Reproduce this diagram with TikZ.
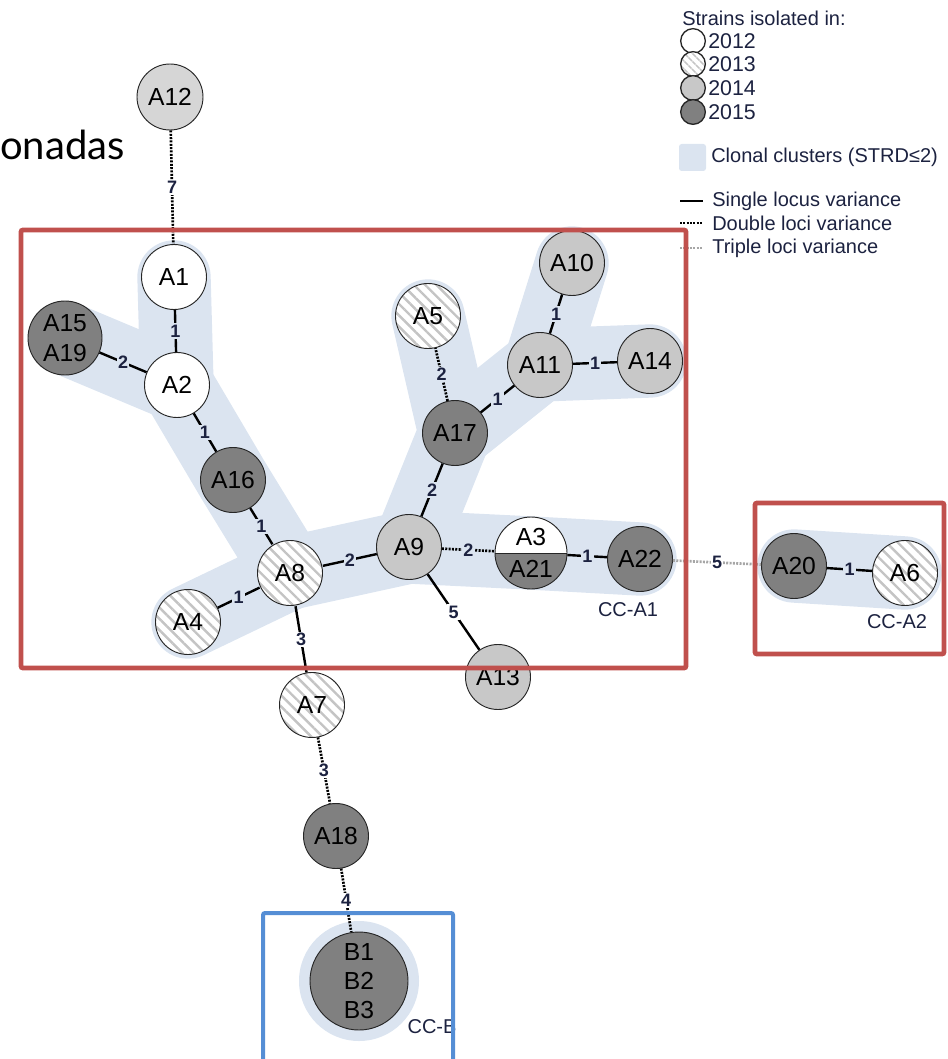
\documentclass[tikz,border=0pt]{standalone}
\usepackage{fontspec}
\setmainfont{Liberation Sans}
\newfontfamily\titlefont{Lato}
\usetikzlibrary{patterns.meta,backgrounds}
\definecolor{clust}{RGB}{219,228,240}
\definecolor{cfour}{RGB}{200,200,200}
\definecolor{cfourl}{RGB}{214,214,214}
\definecolor{cfive}{RGB}{128,128,128}
\definecolor{ink}{RGB}{28,34,64}
\definecolor{boxred}{RGB}{192,80,77}
\definecolor{boxblue}{RGB}{85,142,213}
\definecolor{stripe}{RGB}{196,196,196}
\begin{document}
\begin{tikzpicture}[x=0.75pt,y=-0.75pt,
 strain/.style={circle,draw=black!85,line width=0.7pt,minimum size=48.75pt,inner sep=0pt,font=\fontsize{18.5}{22.5}\selectfont,align=center},
 yrA/.style={strain,fill=white},
 yrB/.style={strain,preaction={fill=white},pattern={Lines[angle=-45,distance=6pt,line width=1.8pt]},pattern color=stripe},
 yrC/.style={strain,fill=cfour},
 yrD/.style={strain,fill=cfive},
 sl/.style={line width=1.8pt,black},
 dl/.style={line width=2pt,black,dash pattern=on 1.5pt off 1pt},
 tl/.style={line width=2pt,black!35,dash pattern=on 1.5pt off 1pt},
 elab/.style={font=\fontsize{13.5}{13.5}\selectfont\bfseries,text=ink,inner sep=1pt},
 hl/.style={elab,fill=clust},
 wl/.style={elab,fill=white},
 halo/.style={line width=55pt,draw=clust,line cap=round,line join=round},
 legtext/.style={font=\fontsize{15}{15}\selectfont,text=ink,anchor=west,inner sep=0pt},
 cclab/.style={font=\fontsize{15}{15}\selectfont,text=ink,inner sep=0pt},
 redbox/.style={draw=boxred,line width=3.6pt,rounded corners=1.5pt},
 bluebox/.style={draw=boxblue,line width=3pt,rounded corners=1.5pt},
 legc/.style={circle,draw=black!85,line width=1pt,minimum size=18.5pt,inner sep=0pt},
]
\useasboundingbox (0,0) rectangle (947,1059);

% title fragment
\node[font=\titlefont\fontsize{30}{30}\selectfont,anchor=base east,inner sep=0pt] (title) at (125,160) {onadas};

% strains
\node[yrC,fill=cfourl,minimum size=49.5pt] (a12) at (170,97) {A12};
\node[yrA] (a1) at (174,277) {A1};
\node[yrD,minimum size=55.5pt] (a1519) at (65,338) {A15\\A19};
\node[yrA] (a2) at (177,385) {A2};
\node[yrD] (a16) at (233,480) {A16};
\node[yrB] (a8) at (290,573) {A8};
\node[yrB] (a4) at (188,622) {A4};
\node[yrC] (a9) at (409,547) {A9};
\node[yrD] (a17) at (455,433) {A17};
\node[yrB] (a5) at (428,316) {A5};
\node[yrC] (a10) at (572,263) {A10};
\node[yrC] (a11) at (540,365) {A11};
\node[yrC] (a14) at (650,361) {A14};
\node[strain,minimum size=54pt,fill=cfive,path picture={\fill[white] (path picture bounding box.north west) rectangle (path picture bounding box.east);}] (a321) at (531,553) {};
\draw[black!85,line width=0.7pt] (a321.west) -- (a321.east);
\node[font=\fontsize{18.5}{18.5}\selectfont,inner sep=0pt] (a3t) at (531,537) {A3};
\node[font=\fontsize{18.5}{18.5}\selectfont,inner sep=0pt] (a21t) at (531,569) {A21};
\node[yrD] (a22) at (640,559) {A22};
\node[yrC] (a13) at (498,677) {A13};
\node[yrD] (a20) at (794,566) {A20};
\node[yrB] (a6) at (905,573) {A6};
\node[yrB] (a7) at (312,705) {A7};
\node[yrD] (a18) at (336,836) {A18};
\node[yrD,minimum size=73.5pt,font=\fontsize{18.5}{21.75}\selectfont] (b) at (359,981) {B1\\B2\\B3};

% clusters
\begin{scope}[on background layer]
\draw[halo] (a1.center) -- (a2.center) -- (a1519.center);
\draw[halo] (a2.center) -- (a16.center) -- (a8.center) -- (a4.center);
\draw[halo] (a8.center) -- (a9.center) -- (a321.center) -- (a22.center);
\draw[halo] (a9.center) -- (a17.center) -- (a5.center);
\draw[halo] (a17.center) -- (a11.center) -- (a10.center);
\draw[halo] (a11.center) -- (a14.center);
\draw[halo] (a20.center) -- (a6.center);
\fill[clust] (b.center) circle (60);
\end{scope}

% connectors
\draw[dl] (a12) -- node[wl]{7} (a1);
\draw[sl] (a1) -- node[hl]{1} (a2);
\draw[sl] (a2) -- node[hl]{2} (a1519);
\draw[sl] (a2) -- node[hl]{1} (a16);
\draw[sl] (a16) -- node[hl]{1} (a8);
\draw[sl] (a8) -- node[hl]{1} (a4);
\draw[sl] (a8) -- node[hl]{2} (a9);
\draw[sl] (a8) -- node[wl]{3} (a7);
\draw[sl] (a9) -- node[hl]{2} (a17);
\draw[dl] (a17) -- node[hl]{2} (a5);
\draw[sl] (a17) -- node[hl]{1} (a11);
\draw[sl] (a11) -- node[hl]{1} (a10);
\draw[sl] (a11) -- node[hl]{1} (a14);
\draw[dl] (a9) -- node[hl]{2} (a321);
\draw[sl] (a321) -- node[hl]{1} (a22);
\draw[sl] (a9) -- node[wl]{5} (a13);
\draw[tl] (a22) -- node[wl]{5} (a20);
\draw[sl] (a20) -- node[hl]{1} (a6);
\draw[dl] (a7) -- node[wl]{3} (a18);
\draw[dl] (a18) -- node[wl]{4} (b);

% cluster labels
\node[cclab] (cca1) at (628,610) {CC-A1};
\node[cclab] (cca2) at (897,622) {CC-A2};
\node[cclab] (ccb) at (432,1027) {CC-B};

% legend
\node[legtext] (lhead) at (682,18) {Strains isolated in:};
\node[legc,fill=white] (l12) at (693,41) {};
\node[legc,preaction={fill=white},pattern={Lines[angle=-45,distance=4pt,line width=1.3pt]},pattern color=stripe] (l13) at (693,64) {};
\node[legc,fill=cfour] (l14) at (693,88) {};
\node[legc,fill=cfive] (l15) at (693,112) {};
\node[legtext,font=\fontsize{16}{16}\selectfont] (t12) at (708,41) {2012};
\node[legtext,font=\fontsize{16}{16}\selectfont] (t13) at (708,64) {2013};
\node[legtext,font=\fontsize{16}{16}\selectfont] (t14) at (708,88) {2014};
\node[legtext,font=\fontsize{16}{16}\selectfont] (t15) at (708,112) {2015};
\node[fill=clust,rounded corners=2pt,minimum size=20.25pt,inner sep=0pt] (lsq) at (692.5,157.5) {};
\node[legtext] (tcl) at (711,157) {Clonal clusters (STRD≤2)};
\coordinate (s1) at (680,201); \coordinate (s2) at (703,201);
\coordinate (d1) at (680,223); \coordinate (d2) at (703,223);
\coordinate (r1) at (680,248); \coordinate (r2) at (703,248);
\draw[sl] (s1) -- (s2);
\draw[dl] (d1) -- (d2);
\draw[tl] (r1) -- (r2);
\node[legtext] (ts) at (712,201) {Single locus variance};
\node[legtext] (td) at (712,223) {Double loci variance};
\node[legtext] (tt) at (712,248) {Triple loci variance};

% highlight boxes
\draw[redbox] (21,230) rectangle (686,668);
\draw[redbox] (755,503) rectangle (944,654);
\draw[bluebox] (263,913) rectangle (453,1080);
\end{tikzpicture}
\end{document}
